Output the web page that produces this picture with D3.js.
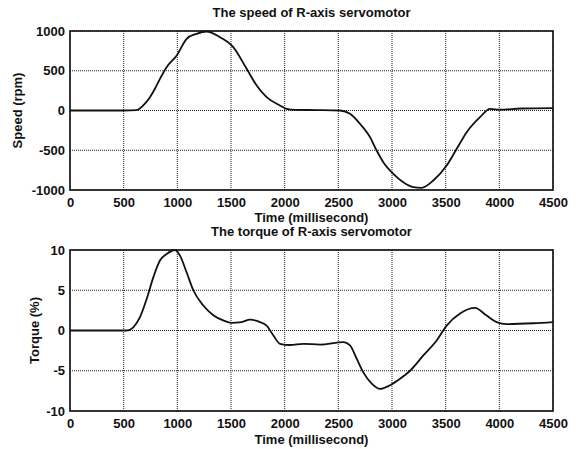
<!DOCTYPE html>
<html>
<head>
<meta charset="utf-8">
<script src="https://cdn.jsdelivr.net/npm/d3@7"></script>
<style>
  body { margin: 0; background: #fff; }
  svg text { font-family: "Liberation Sans", Arial, sans-serif; font-weight: bold; fill: #111; }
</style>
</head>
<body>
<div id="chart"></div>
<script>
// tick values
const timeTicks = [0, 500, 1000, 1500, 2000, 2500, 3000, 3500, 4000, 4500]
const speedTicks = [-1000, -500, 0, 500, 1000]
const torqueTicks = [-10, -5, 0, 5, 10]

// speed of R-axis servomotor (rpm)
const speedTime = [0, 500, 620, 650, 700, 745, 790, 838, 900, 994, 1087, 1180, 1273, 1397, 1521, 1646, 1739, 1832, 1956, 2018, 2100, 2300, 2516, 2609, 2702, 2795, 2857, 2919, 3012, 3105, 3199, 3276, 3385, 3509, 3603, 3696, 3820, 3913, 4006, 4200, 4500]
const speedRpm = [0, 0, 5, 25, 90, 167, 270, 398, 545, 692, 902, 965, 994, 922, 797, 524, 315, 168, 63, 21, 8, 5, 0, -42, -168, -335, -503, -650, -797, -901, -964, -973, -880, -692, -482, -273, -84, 21, 10, 25, 30]

// torque of R-axis servomotor (%)
const torqueTime = [0, 528, 590, 652, 714, 776, 838, 900, 978, 1025, 1087, 1149, 1242, 1335, 1428, 1506, 1599, 1677, 1770, 1832, 1894, 1956, 2050, 2174, 2329, 2546, 2609, 2671, 2733, 2811, 2889, 2982, 3075, 3168, 3292, 3416, 3509, 3634, 3773, 3882, 3975, 4068, 4317, 4500]
const torqueVal = [0, 0, 0.4, 1.65, 3.9, 6.6, 8.7, 9.5, 10.0, 9.3, 7.2, 5.0, 3.1, 1.9, 1.25, 0.95, 1.05, 1.35, 1.05, 0.6, -0.6, -1.65, -1.8, -1.65, -1.75, -1.45, -1.85, -3.5, -5.2, -6.6, -7.25, -6.8, -6.0, -5.0, -3.1, -1.25, 0.6, 2.1, 2.8, 1.85, 1.05, 0.8, 0.9, 1.05]

const W = 582, H = 449

const svg = d3.select("#chart").append("svg")
  .attr("width", W)
  .attr("height", H)

function drawPanel(opts) {
  const { left, top, width, height, times, values, yDomain, yTicks, title, yLabel, titleY, xLabelY, yLabelX } = opts

  const x = d3.scaleLinear().domain([0, 4500]).range([0, width])
  const y = d3.scaleLinear().domain(yDomain).range([height, 0])

  const g = svg.append("g")
    .attr("transform", "translate(" + left + "," + top + ")")

  // dotted grid
  g.append("g")
    .attr("class", "grid")
    .selectAll("line.gx")
    .data(timeTicks)
    .enter().append("line")
    .attr("x1", d => x(d)).attr("x2", d => x(d))
    .attr("y1", 0).attr("y2", height)
  g.append("g")
    .attr("class", "grid")
    .selectAll("line.gy")
    .data(yTicks)
    .enter().append("line")
    .attr("x1", 0).attr("x2", width)
    .attr("y1", d => y(d)).attr("y2", d => y(d))
  g.selectAll(".grid line")
    .attr("stroke", "#222")
    .attr("stroke-width", 1)
    .attr("stroke-dasharray", "1,1")

  // axes (labels only), plain hyphen for negatives like the original
  const xAxis = g.append("g")
    .attr("transform", "translate(0," + height + ")")
    .call(d3.axisBottom(x).tickValues(timeTicks).tickSize(0).tickPadding(8).tickFormat(d => String(d)))
  const yAxis = g.append("g")
    .call(d3.axisLeft(y).tickValues(yTicks).tickSize(0).tickPadding(5).tickFormat(d => String(d)))
  ;[xAxis, yAxis].forEach(a => {
    a.select(".domain").remove()
    a.selectAll("text").style("font-size", "13px").attr("fill", "#111")
  })

  // frame
  g.append("rect")
    .attr("width", width)
    .attr("height", height)
    .attr("fill", "none")
    .attr("stroke", "#111")
    .attr("stroke-width", 1.6)

  // curve
  const line = d3.line()
    .x(d => x(d[0]))
    .y(d => y(d[1]))
    .curve(d3.curveMonotoneX)
  g.append("path")
    .datum(d3.zip(times, values))
    .attr("d", line)
    .attr("fill", "none")
    .attr("stroke", "#111")
    .attr("stroke-width", 1.8)
    .attr("stroke-linejoin", "round")

  // texts
  svg.append("text")
    .attr("x", left + width / 2)
    .attr("y", titleY)
    .attr("text-anchor", "middle")
    .style("font-size", "13px")
    .text(title)

  svg.append("text")
    .attr("x", left + width / 2)
    .attr("y", xLabelY)
    .attr("text-anchor", "middle")
    .style("font-size", "13px")
    .text("Time (millisecond)")

  svg.append("text")
    .attr("transform", "translate(" + yLabelX + "," + (top + height / 2) + ") rotate(-90)")
    .attr("text-anchor", "middle")
    .style("font-size", "13px")
    .text(yLabel)
}

drawPanel({
  left: 70, top: 31, width: 483, height: 159,
  times: speedTime, values: speedRpm,
  yDomain: [-1000, 1000], yTicks: speedTicks,
  title: "The speed of R-axis servomotor", yLabel: "Speed (rpm)",
  titleY: 17, xLabelY: 222, yLabelX: 22
})

drawPanel({
  left: 70, top: 250, width: 483, height: 161,
  times: torqueTime, values: torqueVal,
  yDomain: [-10, 10], yTicks: torqueTicks,
  title: "The torque of R-axis servomotor", yLabel: "Torque (%)",
  titleY: 236, xLabelY: 444, yLabelX: 39
})
</script>
</body>
</html>
